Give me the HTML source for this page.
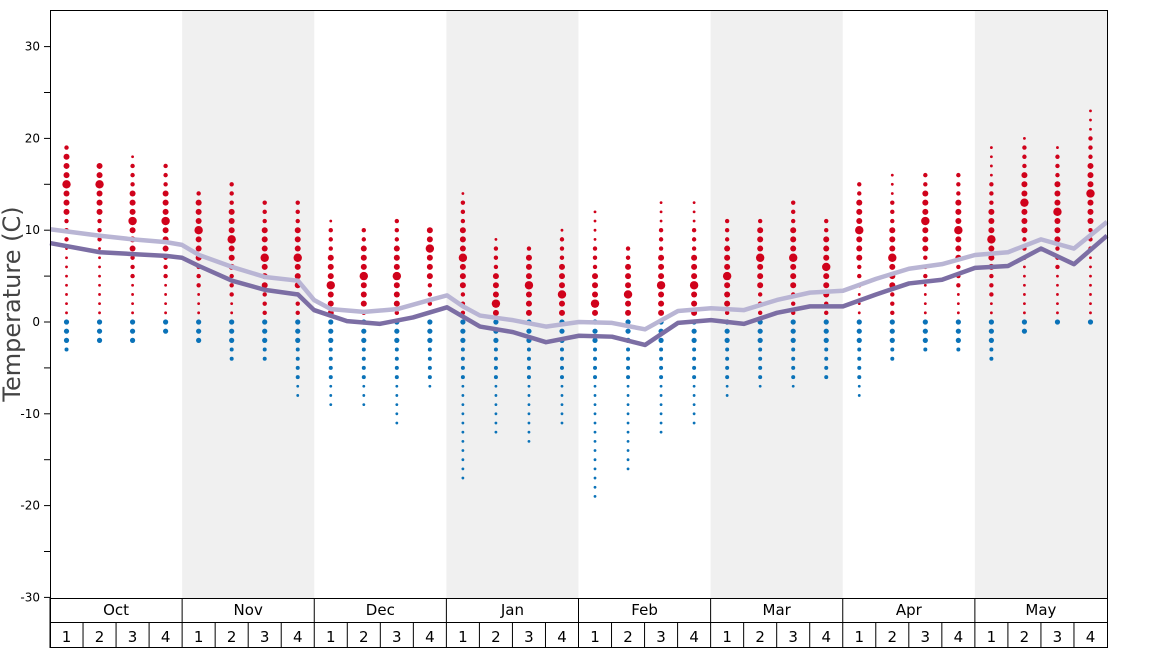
<!DOCTYPE html>
<html><head><meta charset="utf-8"><style>
body{margin:0;background:#fff;}
svg{display:block;font-family:"DejaVu Sans","Liberation Sans",sans-serif;}
</style></head><body>
<svg id="s" width="1168" height="648" viewBox="0 0 1168 648" xmlns="http://www.w3.org/2000/svg"></svg>
<script>
const s=document.getElementById('s');
let h='';
const X0=50,X1=1107,W=(X1-X0)/32;
const y=v=>322-9.18*v;
for(let m=1;m<8;m+=2){h+=`<rect x="${X0+m*4*W}" y="10" width="${4*W}" height="588" fill="#f0f0f0"/>`;}
for(let v=-30;v<=30;v+=5){const yy=y(v);h+=`<line x1="44" x2="50" y1="${yy}" y2="${yy}" stroke="#000"/>`;
 if(v%10==0)h+=`<text x="40" y="${yy+4}" font-size="12" text-anchor="end" fill="#000">${v}</text>`;}
h+=`<text transform="translate(20,304) rotate(-90)" font-size="24" text-anchor="middle" fill="#444">Temperature (C)</text>`;
const d=[[19,-3,15],[17,-2,15],[18,-2,11],[17,-1,11],[14,-2,10],[15,-4,9],[13,-4,7],[13,-8,7],
[11,-9,4],[10,-9,5],[11,-11,5],[10,-7,8],[14,-17,7],[9,-12,2],[8,-13,4],[10,-11,3],
[12,-19,2],[8,-16,3],[13,-12,4],[13,-11,4],[11,-8,5],[11,-7,7],[13,-7,7],[11,-6,6],
[15,-8,10],[16,-4,7],[16,-3,11],[16,-3,10],[19,-4,9],[20,-1,13],[19,0,12],[23,0,14]];
d.forEach((c,i)=>{const cx=X0+W*(i+0.5);for(let v=c[1];v<=c[0];v++){
 const dd=Math.abs(v-c[2]);let r=dd==0?4.2:dd<=3?3:dd<=6?2.2:1.4;
 if(v<=0){r=v>=-2?2.6:v>=-6?2:1.4;}
 h+=`<circle cx="${cx}" cy="${y(v)}" r="${r}" fill="${v>=1?'#d0021b':'#0a72b8'}"/>`;}});
const L=[[50,10.1],[100,9.4],[133,9],[166,8.7],[182,8.4],[199,7.3],[232,6],[265,4.9],[298,4.5],[314,2.4],[331,1.4],[364,1.1],[397,1.4],[430,2.4],[447,2.9],[463,1.7],[480,0.7],[513,0.2],[546,-0.5],[579,0],[612,-0.1],[645,-0.8],[678,1.2],[711,1.5],[744,1.3],[777,2.4],[810,3.2],[843,3.4],[876,4.7],[909,5.8],[942,6.3],[975,7.3],[1008,7.6],[1041,9],[1074,8],[1107,10.9]];
const D=[[50,8.6],[100,7.6],[133,7.4],[166,7.2],[182,7],[199,6.1],[232,4.5],[265,3.5],[298,3],[314,1.3],[347,0.1],[380,-0.2],[413,0.5],[447,1.6],[480,-0.5],[513,-1.1],[546,-2.2],[579,-1.5],[612,-1.6],[645,-2.5],[678,-0.1],[711,0.2],[744,-0.2],[777,1],[810,1.7],[843,1.7],[876,3],[909,4.2],[942,4.6],[975,5.9],[1008,6.1],[1041,8],[1074,6.3],[1107,9.4]];
function pl(a,col){let p=a.map(q=>`${q[0]},${y(q[1])}`).join(' ');
 return `<polyline points="${p}" fill="none" stroke="${col}" stroke-width="4.5" stroke-linejoin="round"/>`;}
h+=pl(L,'#b9b5d4')+pl(D,'#7c6ea4');
h+=`<line x1="50" x2="1107" y1="10.5" y2="10.5" stroke="#000"/><line x1="1107.5" x2="1107.5" y1="10" y2="648" stroke="#000"/><line x1="50.5" x2="50.5" y1="10" y2="648" stroke="#000"/>`;
h+=`<line x1="50" x2="1107" y1="598.5" y2="598.5" stroke="#000"/><line x1="50" x2="1107" y1="622.5" y2="622.5" stroke="#000"/><line x1="50" x2="1107" y1="647.5" y2="647.5" stroke="#000"/>`;
const M=['Oct','Nov','Dec','Jan','Feb','Mar','Apr','May'];
M.forEach((m,i)=>{const x=X0+i*4*W;h+=`<line x1="${x}" x2="${x}" y1="598" y2="622" stroke="#000"/><text x="${x+2*W}" y="615" font-size="15" text-anchor="middle">${m}</text>`;
for(let k=0;k<4;k++){const wx=x+k*W;h+=`<line x1="${wx}" x2="${wx}" y1="622" y2="648" stroke="#000"/><text x="${wx+W/2}" y="642" font-size="15" text-anchor="middle">${k+1}</text>`;}});
s.innerHTML=h;
</script>
</body></html>
